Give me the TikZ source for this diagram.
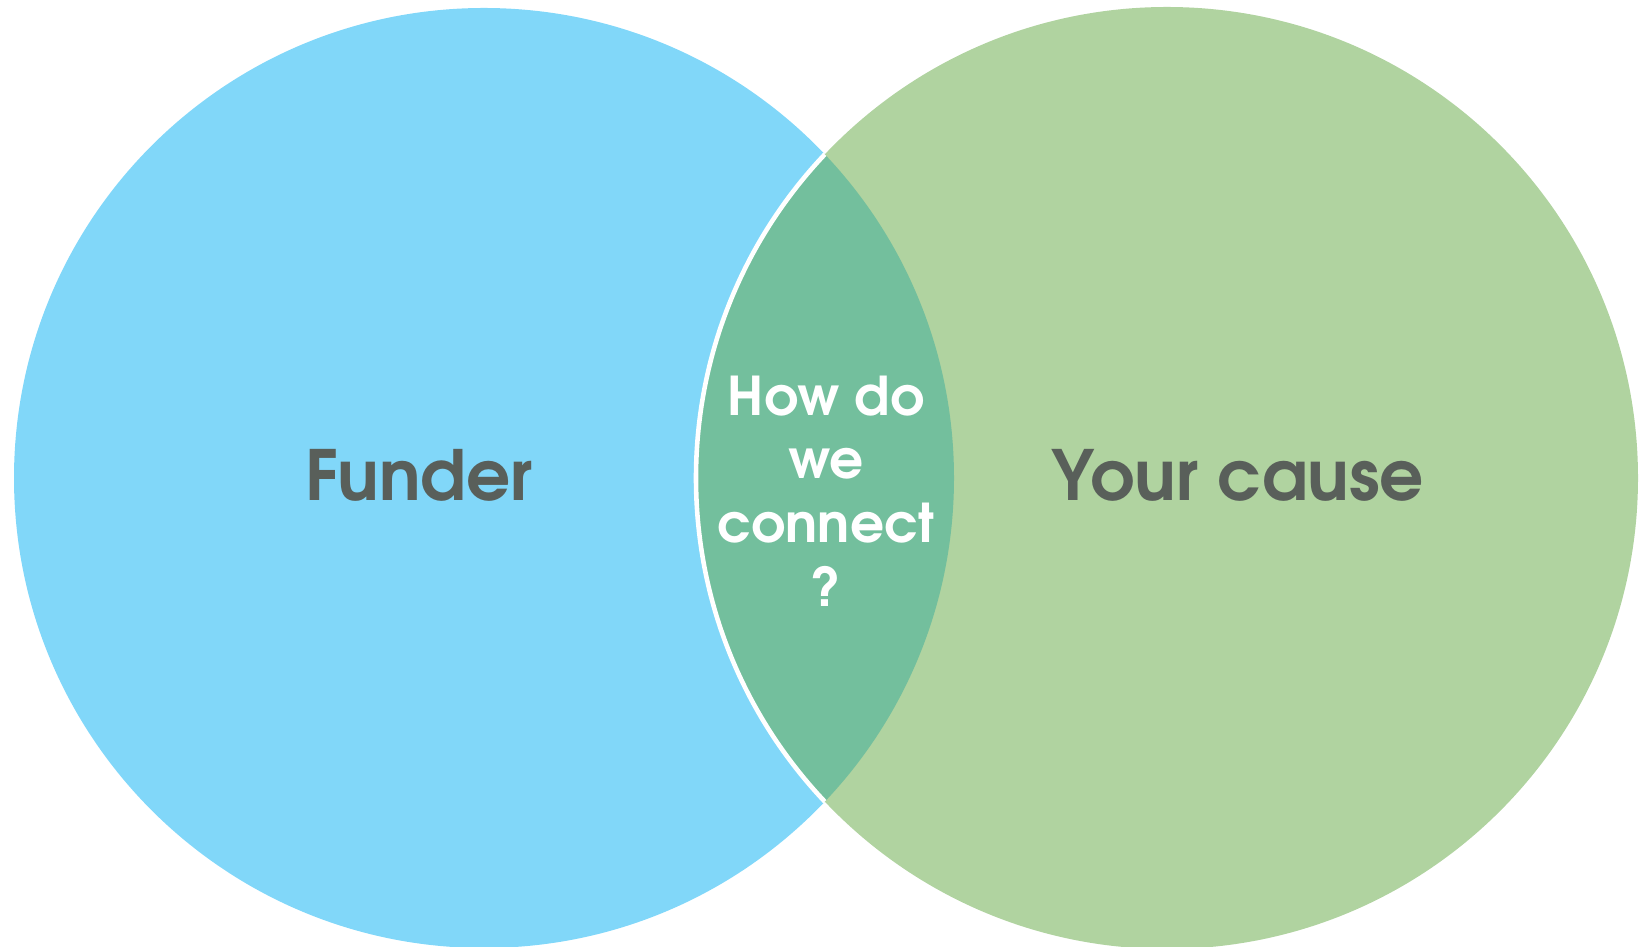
\documentclass[tikz,border=0pt]{standalone}
\usepackage{fontspec}
\setmainfont{TeX Gyre Adventor}
\usepackage{xcolor}

\begin{document}
\begin{tikzpicture}[every node/.style={font=\bfseries, align=center}]
		% Define colors
		\definecolor{funderblue}{RGB}{129, 215, 249}
		\definecolor{causegreen}{RGB}{176, 211, 160}
		\definecolor{overlap}{RGB}{115, 191, 157}
		\definecolor{labelgray}{RGB}{89, 95, 90}
		
		\useasboundingbox (0, 0) rectangle (16.42, 9.47);
		
		% ===== CIRCLES =====
		% Left - Funder
		\fill[funderblue] (4.84, 4.69) circle (4.70);
		
		% Right - Your cause
		\fill[causegreen] (11.67, 4.69) circle (4.71);
		
		% ===== OVERLAP (lens) =====
		\begin{scope}
			\clip (4.84, 4.69) circle (4.70);
			\fill[overlap] (11.67, 4.69) circle (4.71);
			\draw[white, line width=1.3pt] (11.67, 4.69) circle (4.71);
		\end{scope}
		
		% ===== LABELS =====
		\node[text=labelgray, anchor=base, font=\fontsize{19.7}{24}\selectfont\bfseries] (funder) at (4.19, 4.46) {Funder};
		\node[text=labelgray, anchor=base, font=\fontsize{19.7}{24}\selectfont\bfseries] (cause) at (12.38, 4.46) {Your cause};
		\node[text=white, font=\fontsize{15.2}{18.1}\selectfont\bfseries] (connect) at (8.26, 4.56) {How do\\we\\connect\\?};
		
	\end{tikzpicture}
\end{document}
